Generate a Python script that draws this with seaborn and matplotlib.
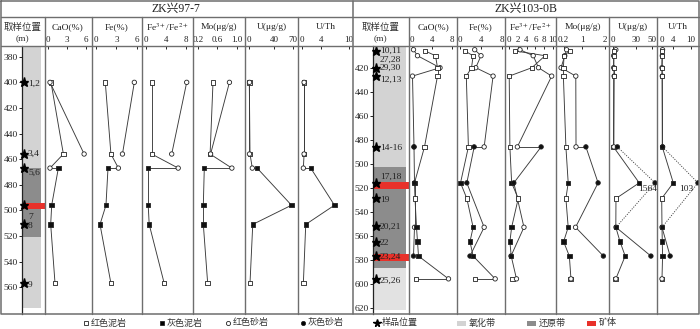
import numpy as np
import pandas as pd
import matplotlib.pyplot as plt
import seaborn as sns

sns.set_theme(style='white')
plt.rcParams['font.family'] = ['Liberation Serif', 'Noto Sans CJK SC']
plt.rcParams['mathtext.fontset'] = 'stix'

# === ZK兴97-7 ===
w1_depth = [400, 400, 456, 456, 467, 467, 496, 511, 557]
w1_type = ['rm', 'rs', 'rm', 'rs', 'rs', 'gm', 'gm', 'gm', 'rm']
w1_paths = [[0, 2, 4, 5, 6, 7, 8], [1, 3]]
w1_cao = [0.43, 0.27, 2.4, 5.7, 0.27, 1.6, 0.54, 0.38, 1.07]
w1_fe = [1.37, 5.65, 2.2, 3.9, 3.3, 1.77, 1.47, 0.59, 2.2]
w1_feratio = [1.2, 8.2, 1.2, 5.2, 6.5, 0.5, 0.5, 0.7, 3.7]
w1_mo = [0.51, 0.85, 0.45, 0.46, 0.90, 0.33, 0.31, 0.31, 0.40]
w1_u = [0.5, 0.8, 1.6, 0.8, 5.3, 13, 68, 6, 1.6]
w1_uth = [0.5, 0.5, 0.5, 0.5, 0.35, 1.9, 6.9, 0.85, 0.35]
w1_star_depth = [400, 456, 467, 496, 511, 557]
w1_label_text = ['1,2', '3,4', '5,6', '7', '8', '9']
w1_label_depth = [401, 456, 471, 505, 512, 558]
w1_oxid = [(371.6, 467), (521, 576)]
w1_reduc = [(467, 521)]
w1_ore = [(494, 499)]

# === ZK兴103-0B ===
w2_depth = [405, 406, 410, 410, 420, 420, 427, 427, 486, 486, 486,
            516, 516, 529, 553, 553, 565, 577, 577, 596, 596]
w2_type = ['rs', 'rm', 'rs', 'rm', 'rs', 'rm', 'rs', 'rm', 'rm', 'rs', 'gs',
           'gm', 'gs', 'rm', 'rs', 'gm', 'gm', 'gs', 'gm', 'rm', 'rs']
w2_paths = [[0, 2, 4, 6, 9, 10, 12, 14, 17],
            [1, 3, 5, 7, 8, 11, 13, 15, 16, 18, 20, 19]]
w2_cao = [0.3, 2.6, 1.1, 4.7, 5.6, 5.1, 0.1, 5.1, 2.5, 0.4, 0.4,
          0.5, 0.5, 0.6, 0.5, 0.9, 1.1, 0.3, 1.3, 0.8, 7.3]
w2_fe = [2.8, 0.9, 4.0, 2.5, 3.0, 2.2, 6.3, 1.2, 1.6, 4.6, 2.7,
         0.1, 1.3, 1.3, 4.6, 2.5, 1.9, 1.9, 2.5, 2.9, 6.7]
w2_feratio = [2.5, 1.4, 5.5, 8.2, 6.7, 5.2, 9.7, 0.05, 0.2, 1.9, 7.3,
              0.6, 1.1, 2.1, 3.4, 0.6, 0.2, 0.45, 0.5, 0.8, 1.7]
w2_mo = [0.33, 0.48, 0.25, 0.22, 0.09, 0.19, 0.73, 0.19, 0.3, 0.74, 1.17,
         0.4, 1.7, 0.3, 0.72, 0.4, 0.2, 1.93, 0.45, 0.5, 0.52]
w2_u = [4.0, 1.5, 1.2, 1.5, 1.3, 1.3, 1.8, 1.3, 1.0, 1.5, 6.0,
        34, 1564, 4.2, 4.2, 4.0, 9.4, 49, 16, 3.5, 4.0]
w2_uth = [0.3, 0.1, 0.2, 0.15, 0.1, 0.1, 0.2, 0.15, 0.2, 0.3, 0.3,
          4.0, 103, 0.0, 0.1, 0.1, 0.2, 2.9, 0.3, 0.0, 0.1]
w2_star_depth = [406, 420, 427, 486, 516, 529, 552, 565, 577, 596]
w2_label_text = ['10,11', '27,28', '29,30', '12,13', '14-16', '17,18',
                 '19', '20,21', '22', '23,24', '25,26']
w2_label_depth = [406, 413, 420, 430, 487, 511, 530, 553, 566, 578, 598]
w2_oxid = [(401.9, 503)]
w2_oxid_low = [(587, 622)]
w2_reduc = [(503, 587)]
w2_ore = [(515.5, 521.5), (575, 581)]

# === Mise en page (pixels) ===
W, H = 700, 329
TOP, BOT = 46, 314
LINE = '#6e6e6e'
C_OX, C_OX2, C_RED, C_ORE = '#d3d3d3', '#e2e2e2', '#8c8c8c', '#e8312a'
PAL = {'rm': 'white', 'gm': '#111111', 'rs': 'white', 'gs': '#111111'}
MARK = {'rm': 's', 'gm': 's', 'rs': 'o', 'gs': 'o'}

titles = ['CaO(%)', 'Fe(%)', r'Fe$^{3+}$/Fe$^{2+}$', 'Mo(μg/g)', 'U(μg/g)', 'U/Th']

# (x0, x1, ancrage valeur/pixel, ticks, plafond, décalage étiquette)
w1_cols = [
    (44.5, 91.5, (0, 48.3, 6, 86), [0, 3, 6], None, 0),
    (91.5, 142, (0, 96, 6, 136.7), [0, 3, 6], None, 0),
    (142, 193, (0, 145.7, 8, 185.7), [0, 4, 8], None, 0),
    (193, 245, (0.2, 198, 1.0, 236.7), [0.2, 0.6, 1.0], None, 0),
    (245, 298, (0, 249, 70, 292.75), [0, 40, 70], None, 0),
    (298, 352.7, (0, 301.7, 10, 349.2), [0, 4, 10], None, 0),
]
w2_cols = [
    (409, 457, (0, 412, 8, 452), [0, 4, 8], None, 0),
    (457, 505, (0, 460, 8, 502), [0, 4, 8], None, 0),
    (505, 556, (0, 509, 10, 553), [0, 2, 4, 6, 8, 10], None, 0),
    (556, 609, (0.2, 563.6, 2, 605), [0.2, 1, 2], None, 0),
    (609, 657, (0, 612.7, 50, 651.7), [0, 30, 50], 54.3, 1.5),
    (657, 699, (0, 661.7, 10, 690.7), [0, 4, 10], 12.5, -3.5),
]

fig = plt.figure(figsize=(W / 100, H / 100), dpi=100)


def fax(x0, x1):
    ax = fig.add_axes([x0 / W, 1 - BOT / H, (x1 - x0) / W, (BOT - TOP) / H])
    ax.set_facecolor('none')
    for s in ax.spines.values():
        s.set_visible(False)
    return ax


def depth_column(x0, x1, ylim, yticks, spine_px, star_px, lab_px,
                 oxid, oxid_low, reduc, ore, stars, lab_txt, lab_d):
    ax = fax(x0, x1)
    ax.set_xlim(0, 1)
    ax.set_ylim(*ylim)
    f = lambda px: (px - x0) / (x1 - x0)
    for a, b in oxid:
        ax.axhspan(a, b, f(spine_px), f(x1 - 3.5), color=C_OX, lw=0)
    for a, b in oxid_low:
        ax.axhspan(a, b, f(spine_px), f(x1 - 3.5), color=C_OX2, lw=0)
    for a, b in reduc:
        ax.axhspan(a, b, f(spine_px), f(x1 - 3.5), color=C_RED, lw=0)
    for a, b in ore:
        ax.axhspan(a, b, f(spine_px), 1.0, color=C_ORE, lw=0)
    sp = ax.spines['left']
    sp.set_visible(True)
    sp.set_position(('axes', f(spine_px)))
    sp.set_color('#222222')
    sp.set_linewidth(0.9)
    ax.set_yticks(yticks)
    ax.set_xticks([])
    ax.tick_params(axis='y', left=True, direction='out', length=2.5, width=0.7,
                   pad=0.5, labelsize=6.8, colors='#222222')
    ax.plot([f(star_px)] * len(stars), stars, ls='none', marker='*',
            ms=6.5, color='black', zorder=4)
    for t, d in zip(lab_txt, lab_d):
        ax.text(f(lab_px), d, t, fontsize=6.8, va='center', ha='left', color='#222222')


def data_column(x0, x1, ylim, anchor, ticks, cap, lab_dx, depth, types, paths, vals):
    ax = fax(x0, x1)
    va, pa, vb, pb = anchor
    k = (pb - pa) / (vb - va)
    ax.set_xlim(va + (x0 - pa) / k, va + (x1 - pa) / k)
    ax.set_ylim(*ylim)
    disp = [min(v, cap) if cap is not None else v for v in vals]
    clipped = [cap is not None and v > cap for v in vals]
    for path in paths:
        for a, b in zip(path[:-1], path[1:]):
            ls = (0, (1.2, 1.5)) if (clipped[a] or clipped[b]) else '-'
            ax.plot([disp[a], disp[b]], [depth[a], depth[b]], color='#3a3a3a',
                    lw=0.65, ls=ls, zorder=2)
    df = pd.DataFrame({'v': disp, 'd': depth, 'type': types})
    sns.scatterplot(data=df, x='v', y='d', hue='type', style='type',
                    palette=PAL, markers=MARK, hue_order=list(PAL), style_order=list(PAL),
                    s=10, edgecolor='#222222', linewidth=0.6, legend=False,
                    ax=ax, zorder=3)
    for i, c in enumerate(clipped):
        if c:
            ax.annotate(f'{vals[i]:g}', (disp[i], depth[i]), xytext=(lab_dx, -4.5),
                        textcoords='offset points', ha='right', va='center',
                        fontsize=6.8, color='#222222')
    ax.set_xlabel('')
    ax.set_ylabel('')
    ax.set_yticks([])
    ax.xaxis.set_ticks_position('top')
    ax.set_xticks(ticks)
    ax.set_xticklabels(['1.0' if (t == 1.0 and 0.6 in ticks) else f'{t:g}' for t in ticks])
    ax.tick_params(axis='x', top=True, bottom=False, labeltop=True, labelbottom=False,
                   direction='in', length=2.5, width=0.7, pad=1.5, labelsize=6.5,
                   colors='#222222')
    return ax


# --- ZK兴97-7 ---
ylim1 = (581, 371.6)
depth_column(1, 44.5, ylim1, list(range(380, 561, 20)), 22, 24, 28,
             w1_oxid, [], w1_reduc, w1_ore, w1_star_depth, w1_label_text, w1_label_depth)
w1_vals = [w1_cao, w1_fe, w1_feratio, w1_mo, w1_u, w1_uth]
for (x0, x1, anc, tk, cap, dx), v in zip(w1_cols, w1_vals):
    data_column(x0, x1, ylim1, anc, tk, cap, dx, w1_depth, w1_type, w1_paths, v)

# --- ZK兴103-0B ---
ylim2 = (625.3, 401.9)
depth_column(352.7, 409, ylim2, list(range(420, 621, 20)), 373, 375.5, 380,
             w2_oxid, w2_oxid_low, w2_reduc, w2_ore, w2_star_depth, w2_label_text, w2_label_depth)
w2_vals = [w2_cao, w2_fe, w2_feratio, w2_mo, w2_u, w2_uth]
for (x0, x1, anc, tk, cap, dx), v in zip(w2_cols, w2_vals):
    data_column(x0, x1, ylim2, anc, tk, cap, dx, w2_depth, w2_type, w2_paths, v)

# === Cadre, en-têtes et légende ===
ax0 = fig.add_axes([0, 0, 1, 1])
ax0.set_xlim(0, W)
ax0.set_ylim(H, 0)
ax0.axis('off')
ax0.set_zorder(10)
ax0.plot([1, 699, 699, 1, 1], [1, 1, BOT, BOT, 1], color=LINE, lw=1.1)
ax0.plot([1, 699], [17, 17], color=LINE, lw=1)
ax0.plot([1, 699], [TOP, TOP], color=LINE, lw=1)
ax0.plot([352.7, 352.7], [1, BOT], color=LINE, lw=1.1)
for cols in (w1_cols, w2_cols):
    for x in [c[0] for c in cols]:
        ax0.plot([x, x], [17, BOT], color=LINE, lw=1)

ax0.text(176, 9, 'ZK兴97-7', fontsize=8.5, ha='center', va='center', color='#222222')
ax0.text(526, 9, 'ZK兴103-0B', fontsize=8.5, ha='center', va='center', color='#222222')
for xc in (22.7, 380.8):
    ax0.text(xc, 27, '取样位置', fontsize=6.8, ha='center', va='center', color='#333333')
    ax0.text(xc, 39, '(m)', fontsize=6.8, ha='center', va='center', color='#333333')
for cols in (w1_cols, w2_cols):
    for (x0, x1, *_), t in zip(cols, titles):
        ax0.text((x0 + x1) / 2, 27, t, fontsize=6.8, ha='center', va='center', color='#222222')

leg_y = 323
leg_marks = [('s', 'white', '红色泥岩', 86), ('s', 'black', '灰色泥岩', 162),
             ('o', 'white', '红色砂岩', 228), ('o', 'black', '灰色砂岩', 303)]
for m, fc, t, x in leg_marks:
    ax0.plot([x], [leg_y], marker=m, ms=3, mfc=fc, mec='#222222', mew=0.6, ls='none')
    ax0.text(x + 4.5, leg_y, t, fontsize=6.5, ha='left', va='center', color='#333333')
ax0.plot([377], [leg_y], marker='*', ms=5.5, color='black', ls='none')
ax0.text(382, leg_y, '样品位置', fontsize=6.5, ha='left', va='center', color='#333333')
for c, t, x in [(C_OX, '氧化带', 457), (C_RED, '还原带', 527), (C_ORE, '矿体', 587)]:
    ax0.add_patch(plt.Rectangle((x, leg_y - 2.5), 9, 5, color=c, lw=0))
    ax0.text(x + 12, leg_y, t, fontsize=6.5, ha='left', va='center', color='#333333')

fig.savefig('out.png', dpi=100)
